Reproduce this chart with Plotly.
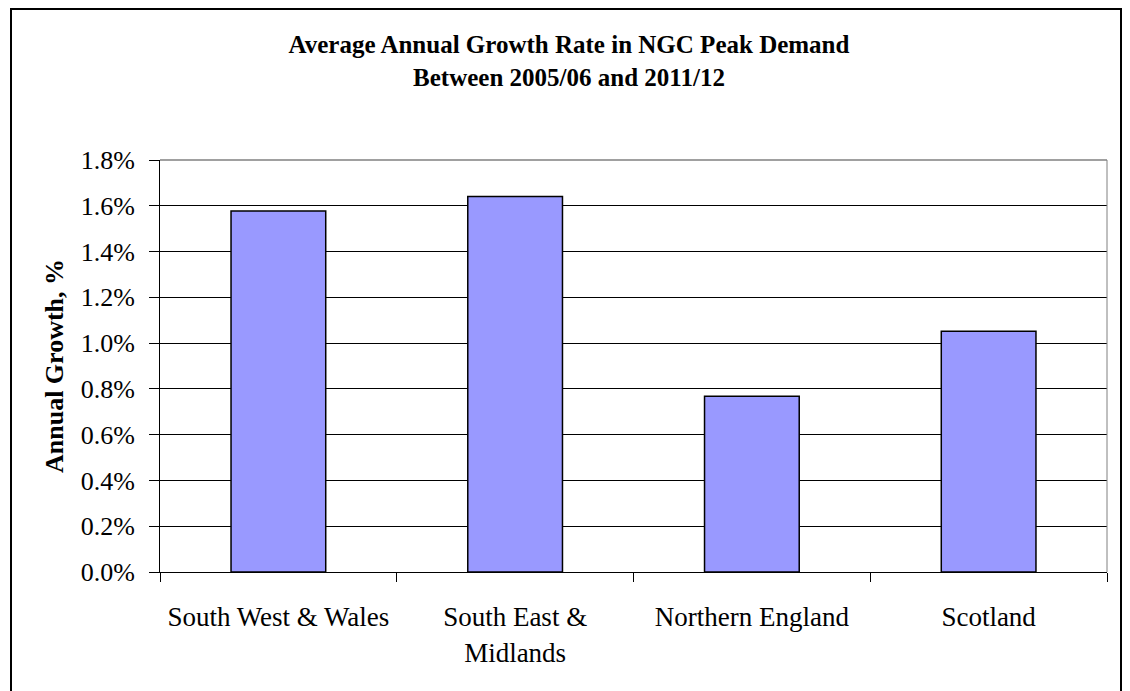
import plotly.graph_objects as go

categories = ["South West & Wales", "South East &<br>Midlands", "Northern England", "Scotland"]
growth = [0.01577, 0.01640, 0.00768, 0.01052]
y_ticks = [0.0, 0.002, 0.004, 0.006, 0.008, 0.010, 0.012, 0.014, 0.016, 0.018]
y_labels = ["0.0%", "0.2%", "0.4%", "0.6%", "0.8%", "1.0%", "1.2%", "1.4%", "1.6%", "1.8%"]

FONT = "Liberation Serif"
W, H = 1122, 683
L, R, T, B = 152, 23, 152, 119
PW, PH = W - L - R, H - T - B

fig = go.Figure()
fig.add_trace(go.Bar(
    x=categories, y=growth,
    marker=dict(color="#9999FF", line=dict(color="black", width=1.5)),
    width=0.4,
))

fig.update_layout(
    width=W, height=H,
    paper_bgcolor="white", plot_bgcolor="white",
    margin=dict(l=L, r=R, t=T, b=B, autoexpand=False),
    showlegend=False,
    title=dict(
        text="Average Annual Growth Rate in NGC Peak Demand<br>Between 2005/06 and 2011/12",
        font=dict(family=FONT, size=25, color="black", weight="bold"),
        x=(569 - 8) / W, xanchor="center", xref="container",
        y=1 - 45 / H, yanchor="middle", yref="container",
    ),
    xaxis=dict(
        tickson="boundaries", ticks="outside", ticklen=9, tickcolor="black",
        showline=True, linecolor="black", linewidth=1,
        tickfont=dict(family=FONT, size=27, color="black"),
        ticklabelstandoff=21,
        showgrid=False, mirror=False,
    ),
    yaxis=dict(
        range=[0, 0.018], tickvals=y_ticks, ticktext=y_labels,
        ticks="outside", ticklen=10, tickcolor="black",
        showline=True, linecolor="black", linewidth=1,
        showgrid=True, gridcolor="black", gridwidth=1,
        tickfont=dict(family=FONT, size=26, color="black"),
        ticklabelstandoff=9,
        title=dict(text="Annual Growth, %", font=dict(family=FONT, size=26, color="black", weight="bold"), standoff=9),
        zeroline=False,
    ),
    bargap=0.6,
)

# plot-area border on top/right (gray) and outer chart frame
fig.add_shape(type="line", xref="paper", yref="paper", x0=1, x1=1, y0=0, y1=1,
              line=dict(color="#808080", width=1))
fig.add_shape(type="line", xref="paper", yref="paper", x0=0, x1=1, y0=1, y1=1,
              line=dict(color="#808080", width=1.5))
fig.add_shape(type="rect", xref="paper", yref="paper",
              x0=(3 - L) / PW, x1=(1113 - L) / PW,
              y0=(T + PH - 720) / PH, y1=(T + PH - 1) / PH,
              line=dict(color="black", width=2), layer="below")

fig.write_html("out.html")
